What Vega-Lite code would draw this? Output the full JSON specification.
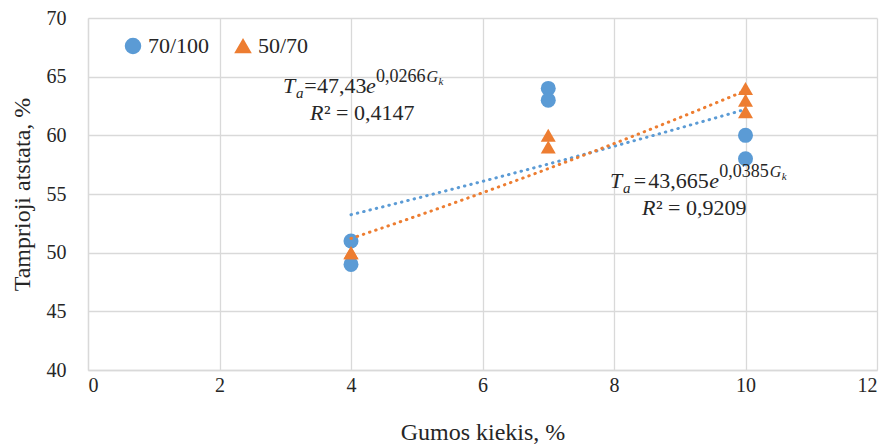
{
  "$schema": "https://vega.github.io/schema/vega-lite/v6.json",
  "width": 789,
  "height": 352,
  "autosize": "none",
  "padding": {"left": 88, "top": 18, "right": 16, "bottom": 77},
  "background": "white",
  "config": {
    "view": {"stroke": null},
    "font": "Liberation Serif, serif",
    "text": {"font": "Liberation Serif, serif"},
    "legend": {"labelFont": "Liberation Serif, serif", "titleFont": "Liberation Serif, serif"},
    "axis": {
      "gridColor": "#d9d9d9",
      "gridWidth": 1.3,
      "domainColor": "#d9d9d9",
      "domainWidth": 1.3,
      "ticks": false,
      "labelFont": "Liberation Serif, serif",
      "labelFontSize": 20,
      "labelColor": "#262626",
      "titleFont": "Liberation Serif, serif",
      "titleFontSize": 24,
      "titleFontWeight": "normal",
      "titleColor": "#262626"
    }
  },
  "data": {
    "values": [
      {"x": 4, "y": 51, "series": "70/100"},
      {"x": 4, "y": 49, "series": "70/100"},
      {"x": 7, "y": 64, "series": "70/100"},
      {"x": 7, "y": 63, "series": "70/100"},
      {"x": 10, "y": 60, "series": "70/100"},
      {"x": 10, "y": 58, "series": "70/100"},
      {"x": 4, "y": 50, "series": "50/70"},
      {"x": 4, "y": 50, "series": "50/70"},
      {"x": 7, "y": 60, "series": "50/70"},
      {"x": 7, "y": 59, "series": "50/70"},
      {"x": 10, "y": 64, "series": "50/70"},
      {"x": 10, "y": 63, "series": "50/70"},
      {"x": 10, "y": 62, "series": "50/70"}
    ]
  },
  "layer": [
    {
      "mark": {"type": "point", "filled": true, "opacity": 1, "size": 225},
      "encoding": {
        "x": {"field": "x", "type": "quantitative",
              "scale": {"domain": [0, 12], "nice": false, "zero": false},
              "axis": {"values": [0, 2, 4, 6, 8, 10, 12], "format": "d", "labelFont": "Liberation Serif, serif", "labelPadding": 5, "title": "Gumos kiekis, %", "titlePadding": 25}},
        "y": {"field": "y", "type": "quantitative",
              "scale": {"domain": [40, 70], "nice": false, "zero": false},
              "axis": {"values": [40, 45, 50, 55, 60, 65, 70], "format": "d", "labelFont": "Liberation Serif, serif", "labelPadding": 22, "title": "Tamprioji atstata, %", "titlePadding": 12}},
        "color": {"field": "series", "type": "nominal",
                  "scale": {"domain": ["70/100", "50/70"], "range": ["#5B9BD5", "#ED7D31"]},
                  "legend": {"title": null, "orient": "none", "direction": "horizontal", "legendX": 34, "legendY": 17,
                             "labelFont": "Liberation Serif, serif", "labelFontSize": 22, "labelColor": "#262626",
                             "symbolSize": 225, "labelOffset": 4, "columnPadding": 22, "padding": 0, "symbolOpacity": 1}},
        "shape": {"field": "series", "type": "nominal",
                  "scale": {"domain": ["70/100", "50/70"], "range": ["circle", "triangle-up"]}}
      }
    },
    {
      "transform": [{"regression": "y", "on": "x", "method": "exp", "groupby": ["series"]}],
      "mark": {"type": "line", "strokeWidth": 3, "strokeCap": "round", "strokeDash": [0.5, 6]},
      "encoding": {
        "x": {"field": "x", "type": "quantitative"},
        "y": {"field": "y", "type": "quantitative"},
        "color": {"field": "series", "type": "nominal", "legend": null}
      }
    },
    {"data": {"values": [{}]}, "mark": {"type": "text", "text": "T", "fontStyle": "italic", "fontSize": 22, "align": "left", "baseline": "alphabetic", "color": "#262626"},
     "encoding": {"x": {"datum": 2.966}, "y": {"datum": 63.61}}},
    {"data": {"values": [{}]}, "mark": {"type": "text", "text": "a", "fontStyle": "italic", "fontSize": 15, "align": "left", "baseline": "alphabetic", "dy": 5, "color": "#262626"},
     "encoding": {"x": {"datum": 3.163}, "y": {"datum": 63.61}}},
    {"data": {"values": [{}]}, "mark": {"type": "text", "text": "=", "fontSize": 22, "align": "left", "baseline": "alphabetic", "color": "#262626"},
     "encoding": {"x": {"datum": 3.29}, "y": {"datum": 63.61}}},
    {"data": {"values": [{}]}, "mark": {"type": "text", "text": "47,43", "fontSize": 22, "align": "left", "baseline": "alphabetic", "color": "#262626"},
     "encoding": {"x": {"datum": 3.483}, "y": {"datum": 63.61}}},
    {"data": {"values": [{}]}, "mark": {"type": "text", "text": "e", "fontStyle": "italic", "fontSize": 22, "align": "left", "baseline": "alphabetic", "color": "#262626"},
     "encoding": {"x": {"datum": 4.23}, "y": {"datum": 63.61}}},
    {"data": {"values": [{}]}, "mark": {"type": "text", "text": "0,0266", "fontSize": 18, "align": "left", "baseline": "alphabetic", "dy": -11, "color": "#262626"},
     "encoding": {"x": {"datum": 4.38}, "y": {"datum": 63.61}}},
    {"data": {"values": [{}]}, "mark": {"type": "text", "text": "G", "fontStyle": "italic", "fontSize": 16, "align": "left", "baseline": "alphabetic", "dy": -11, "color": "#262626"},
     "encoding": {"x": {"datum": 5.15}, "y": {"datum": 63.61}}},
    {"data": {"values": [{}]}, "mark": {"type": "text", "text": "k", "fontStyle": "italic", "fontSize": 11, "align": "left", "baseline": "alphabetic", "dy": -8, "color": "#262626"},
     "encoding": {"x": {"datum": 5.33}, "y": {"datum": 63.61}}},
    {"data": {"values": [{}]}, "mark": {"type": "text", "text": "R", "fontStyle": "italic", "fontSize": 22, "align": "left", "baseline": "alphabetic", "color": "#262626"},
     "encoding": {"x": {"datum": 3.376}, "y": {"datum": 61.31}}},
    {"data": {"values": [{}]}, "mark": {"type": "text", "text": "² = 0,4147", "fontSize": 22, "align": "left", "baseline": "alphabetic", "color": "#262626"},
     "encoding": {"x": {"datum": 3.589}, "y": {"datum": 61.31}}},
    {"data": {"values": [{}]}, "mark": {"type": "text", "text": "T", "fontStyle": "italic", "fontSize": 22, "align": "left", "baseline": "alphabetic", "color": "#262626"},
     "encoding": {"x": {"datum": 7.939}, "y": {"datum": 55.51}}},
    {"data": {"values": [{}]}, "mark": {"type": "text", "text": "a", "fontStyle": "italic", "fontSize": 15, "align": "left", "baseline": "alphabetic", "dy": 5, "color": "#262626"},
     "encoding": {"x": {"datum": 8.137}, "y": {"datum": 55.51}}},
    {"data": {"values": [{}]}, "mark": {"type": "text", "text": "=", "fontSize": 22, "align": "left", "baseline": "alphabetic", "color": "#262626"},
     "encoding": {"x": {"datum": 8.30}, "y": {"datum": 55.51}}},
    {"data": {"values": [{}]}, "mark": {"type": "text", "text": "43,665", "fontSize": 22, "align": "left", "baseline": "alphabetic", "color": "#262626"},
     "encoding": {"x": {"datum": 8.52}, "y": {"datum": 55.51}}},
    {"data": {"values": [{}]}, "mark": {"type": "text", "text": "e", "fontStyle": "italic", "fontSize": 22, "align": "left", "baseline": "alphabetic", "color": "#262626"},
     "encoding": {"x": {"datum": 9.45}, "y": {"datum": 55.51}}},
    {"data": {"values": [{}]}, "mark": {"type": "text", "text": "0,0385", "fontSize": 18, "align": "left", "baseline": "alphabetic", "dy": -11, "color": "#262626"},
     "encoding": {"x": {"datum": 9.60}, "y": {"datum": 55.51}}},
    {"data": {"values": [{}]}, "mark": {"type": "text", "text": "G", "fontStyle": "italic", "fontSize": 16, "align": "left", "baseline": "alphabetic", "dy": -11, "color": "#262626"},
     "encoding": {"x": {"datum": 10.37}, "y": {"datum": 55.51}}},
    {"data": {"values": [{}]}, "mark": {"type": "text", "text": "k", "fontStyle": "italic", "fontSize": 11, "align": "left", "baseline": "alphabetic", "dy": -8, "color": "#262626"},
     "encoding": {"x": {"datum": 10.55}, "y": {"datum": 55.51}}},
    {"data": {"values": [{}]}, "mark": {"type": "text", "text": "R", "fontStyle": "italic", "fontSize": 22, "align": "left", "baseline": "alphabetic", "color": "#262626"},
     "encoding": {"x": {"datum": 8.426}, "y": {"datum": 53.21}}},
    {"data": {"values": [{}]}, "mark": {"type": "text", "text": "² = 0,9209", "fontSize": 22, "align": "left", "baseline": "alphabetic", "color": "#262626"},
     "encoding": {"x": {"datum": 8.639}, "y": {"datum": 53.21}}}
  ]
}
